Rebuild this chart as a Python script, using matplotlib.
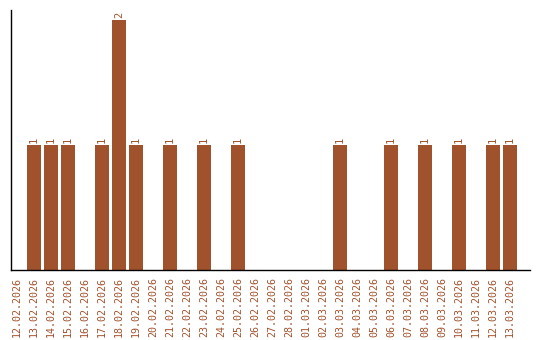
import matplotlib
matplotlib.use("Agg")
import matplotlib.pyplot as plt
import numpy as np

# dates shown on the x axis
dates = ['12.02.2026', '13.02.2026', '14.02.2026', '15.02.2026', '16.02.2026',
         '17.02.2026', '18.02.2026', '19.02.2026', '20.02.2026', '21.02.2026',
         '22.02.2026', '23.02.2026', '24.02.2026', '25.02.2026', '26.02.2026',
         '27.02.2026', '28.02.2026', '01.03.2026', '02.03.2026', '03.03.2026',
         '04.03.2026', '05.03.2026', '06.03.2026', '07.03.2026', '08.03.2026',
         '09.03.2026', '10.03.2026', '11.03.2026', '12.03.2026', '13.03.2026']
counts = [0, 1, 1, 1, 0, 1, 2, 1, 0, 1,
          0, 1, 0, 1, 0, 0, 0, 0, 0, 1,
          0, 0, 1, 0, 1, 0, 1, 0, 1, 1]

color = '#A0522D'

fig = plt.figure(figsize=(5.4, 3.4), dpi=100)
ax = fig.add_axes([11/540, 70/340, 519/540, 260/340])

x = np.arange(len(dates))
bars = ax.bar(x, counts, width=0.82, color=color)

for xi, v in zip(x, counts):
    if v > 0:
        ax.text(xi, v + 0.02, str(v), ha='center', va='bottom', rotation=90,
                fontsize=7.5, color=color, family='DejaVu Sans Mono')

ax.set_xlim(-0.35, 30.18)
ax.set_ylim(0, 2.08)
ax.set_xticks(x)
ax.set_xticklabels(dates, rotation=90, fontsize=7.2, color=color,
                   family='DejaVu Sans Mono')
ax.tick_params(axis='x', length=0, pad=5)
ax.set_yticks([])
ax.spines['top'].set_visible(False)
ax.spines['right'].set_visible(False)
ax.spines['left'].set_linewidth(1)
ax.spines['bottom'].set_linewidth(1)

fig.savefig('out.png', dpi=100, facecolor='white')
